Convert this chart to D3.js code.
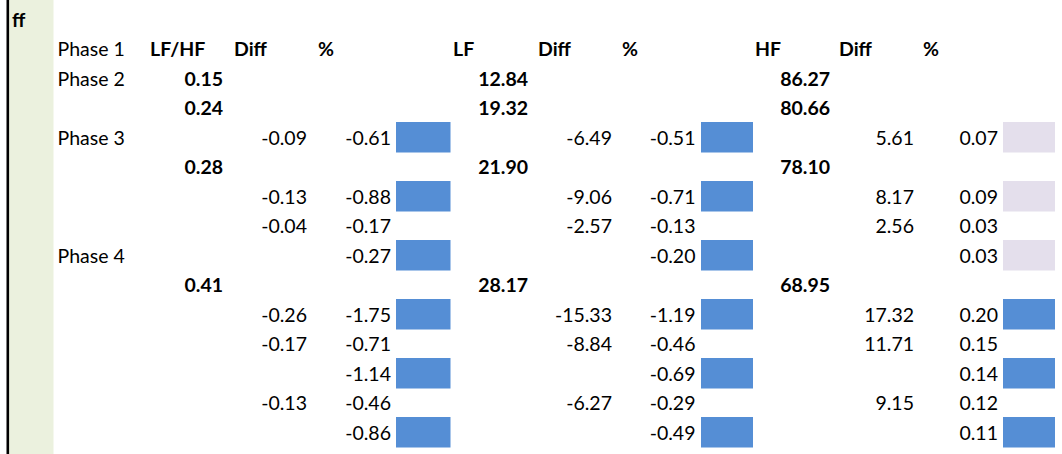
<!DOCTYPE html>
<html>
<head>
<meta charset="utf-8">
<script src="https://cdn.jsdelivr.net/npm/d3@7"></script>
<style>
    body { margin: 0; background: #fff; }
    text { font-family: Lato, "Noto Sans", sans-serif; font-size: 19.5px; fill: #000; }
    .bold { font-weight: bold; }
</style>
</head>
<body>
<svg id="sheet" width="1062" height="454"></svg>
<script>
"use strict";

//
/* Data: */
//

// Header row (row 1), one per value column
var headerCols = ["C", "D", "E", "G", "H", "I", "K", "L", "M"];
var headerLabels = ["LF/HF", "Diff", "%", "LF", "Diff", "%", "HF", "Diff", "%"];

// Phase labels in column B
var phaseRows = [1, 2, 4, 8];
var phaseLabels = ["Phase 1", "Phase 2", "Phase 3", "Phase 4"];

// Level values (bold)
var levelRows = [2, 3, 5, 9];
var lfhfLevel = [0.15, 0.24, 0.28, 0.41];
var lfLevel = [12.84, 19.32, 21.90, 28.17];
var hfLevel = [86.27, 80.66, 78.10, 68.95];

// Differences
var diffRows = [4, 6, 7, 10, 11, 13];
var lfhfDiff = [-0.09, -0.13, -0.04, -0.26, -0.17, -0.13];
var lfDiff = [-6.49, -9.06, -2.57, -15.33, -8.84, -6.27];
var hfDiff = [5.61, 8.17, 2.56, 17.32, 11.71, 9.15];

// Relative change
var pctRows = [4, 6, 7, 8, 10, 11, 12, 13, 14];
var lfhfPct = [-0.61, -0.88, -0.17, -0.27, -1.75, -0.71, -1.14, -0.46, -0.86];
var lfPct = [-0.51, -0.71, -0.13, -0.20, -1.19, -0.46, -0.69, -0.29, -0.49];
var hfPct = [0.07, 0.09, 0.03, 0.03, 0.20, 0.15, 0.14, 0.12, 0.11];

// Flag cells next to the % columns
var flagRows = [4, 6, 8, 10, 12, 14];
var lfhfFlag = ["strong", "strong", "strong", "strong", "strong", "strong"];
var lfFlag = ["strong", "strong", "strong", "strong", "strong", "strong"];
var hfFlag = ["weak", "weak", "weak", "strong", "strong", "strong"];

//
/* Layout: */
//
var svg = d3.select("#sheet");
var rowCount = 15;
var rowH = 29.5;

var y = d3.scaleLinear().domain([0, rowCount]).range([4.5, 4.5 + rowCount * rowH]);

var colKeys = ["B", "C", "D", "E", "F", "G", "H", "I", "J", "K", "L", "M", "N"];
var colLeft = d3.scaleOrdinal().domain(colKeys)
    .range([53.5, 146, 230, 314, 396, 449, 534, 618, 701, 751, 835, 919, 1003]);
var colRight = d3.scaleOrdinal().domain(colKeys)
    .range([146, 227, 311, 395, 450.5, 532, 616, 699.5, 753, 834, 918, 1002, 1055]);

var flagColor = d3.scaleOrdinal().domain(["strong", "weak"]).range(["#558ED5", "#E4DFEC"]);

var pad = 4;
var baseline = 22;

// left gutter: black rule + green column
svg.append("rect").attr("x", 9).attr("y", 0).attr("width", 44.5).attr("height", 454).attr("fill", "#EBF1DE");
svg.append("rect").attr("x", 6.5).attr("y", 0).attr("width", 2.6).attr("height", 454).attr("fill", "#000");

svg.append("text").attr("class", "bold")
    .attr("x", 12).attr("y", y(0) + baseline)
    .text("ff");

function leftTexts(col, rows, labels, cls)
{
    svg.append("g").selectAll("text")
        .data(rows)
        .enter()
        .append("text")
        .attr("class", cls || null)
        .attr("x", colLeft(col) + pad)
        .attr("y", function (d) { return y(d) + baseline; })
        .text(function (d, i) { return labels[i]; });
}

function numberColumn(col, rows, values, cls)
{
    svg.append("g").selectAll("text")
        .data(values)
        .enter()
        .append("text")
        .attr("class", cls || null)
        .attr("text-anchor", "end")
        .attr("x", colRight(col) - pad)
        .attr("y", function (d, i) { return y(rows[i]) + baseline; })
        .text(function (d) { return d3.format(".2f")(d).replace("−", "-"); });
}

function flagColumn(col, flags)
{
    svg.append("g").selectAll("rect")
        .data(flags)
        .enter()
        .append("rect")
        .attr("x", colLeft(col))
        .attr("width", colRight(col) - colLeft(col))
        .attr("y", function (d, i) { return y(flagRows[i]) - 0.5; })
        .attr("height", rowH + 1)
        .attr("fill", function (d) { return flagColor(d); });
}

flagColumn("F", lfhfFlag);
flagColumn("J", lfFlag);
flagColumn("N", hfFlag);

// headers
svg.append("g").selectAll("text")
    .data(headerLabels)
    .enter()
    .append("text")
    .attr("class", "bold")
    .attr("x", function (d, i) { return colLeft(headerCols[i]) + pad; })
    .attr("y", y(1) + baseline)
    .text(function (d) { return d; });

leftTexts("B", phaseRows, phaseLabels);

numberColumn("C", levelRows, lfhfLevel, "bold");
numberColumn("G", levelRows, lfLevel, "bold");
numberColumn("K", levelRows, hfLevel, "bold");

numberColumn("D", diffRows, lfhfDiff);
numberColumn("H", diffRows, lfDiff);
numberColumn("L", diffRows, hfDiff);

numberColumn("E", pctRows, lfhfPct);
numberColumn("I", pctRows, lfPct);
numberColumn("M", pctRows, hfPct);
</script>
</body>
</html>
